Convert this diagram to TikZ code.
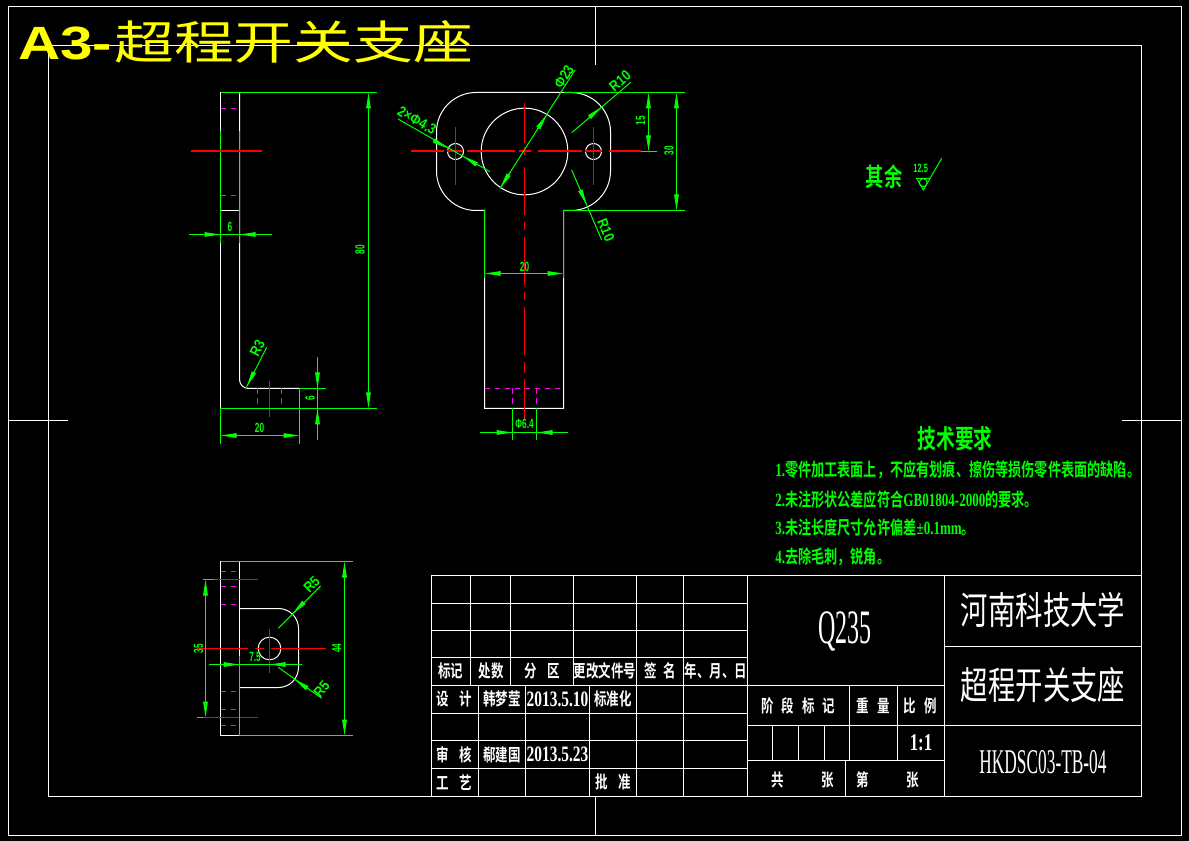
\documentclass[tikz,border=0pt]{standalone}
\usepackage{fontspec}
\usepackage{tikz}
\usetikzlibrary{arrows.meta}
\setmainfont{Liberation Serif}
\newfontfamily\cjkfont[FakeStretch=0.72]{Noto Sans CJK SC}
\newfontfamily\cjkbold[FakeStretch=0.72]{Noto Sans CJK SC Bold}
\newfontfamily\cjkwide[FakeStretch=1.3]{Noto Sans CJK SC}
\newfontfamily\cadfont[FakeStretch=0.7]{Liberation Serif Bold}
\newfontfamily\cadnarrow[FakeStretch=0.5]{Liberation Serif}
\newfontfamily\dimfont[FakeStretch=0.62]{Liberation Sans Bold}
\newfontfamily\dimwide[FakeStretch=0.85]{Liberation Sans Bold}
\newfontfamily\headfont[FakeStretch=1.25]{Liberation Sans Bold}
\definecolor{cadgreen}{HTML}{00FF00}
\definecolor{cadred}{HTML}{FF0000}
\definecolor{cadpink}{HTML}{FF00FF}
\definecolor{cadyellow}{HTML}{FFFF00}
\newcommand\fs[1]{\fontsize{#1}{#1}\selectfont}
\newcommand\gap[1]{\hspace*{#1pt}}

\begin{document}
\begin{tikzpicture}[
    x=0.75pt, y=-0.75pt,
    outline/.style={white, line width=0.75pt},
    table line/.style={white, line width=0.75pt},
    thin green/.style={cadgreen, line width=0.75pt},
    center line/.style={cadred, line width=1pt},
    hidden line/.style={cadpink, line width=1pt, dash pattern=on 4pt off 3.5pt},
    dim line/.style={thin green, {Triangle[length=12pt,width=3.4pt]}-{Triangle[length=12pt,width=3.4pt]}},
    dim tip/.style={thin green, -{Triangle[length=12pt,width=3.4pt]}},
    dim text/.style={text=cadgreen, inner sep=0pt, font=\dimfont\fs{10}},
    slant text/.style={text=cadgreen, inner sep=0pt, font=\dimwide\fs{11}},
    note text/.style={text=cadgreen, inner sep=0pt, font=\cjkbold\fs{13.7}},
    cell text/.style={text=white, inner sep=0pt, font=\cjkbold\fs{13}}]
  \fill[black] (0,0) rectangle (1189,841);

  %% *** Frame ***
  \draw[outline] (8.5,6.5) rectangle (1181.5,835.5);
  \draw[outline] (48.5,45.5) rectangle (1141.5,796.5);
  \draw[outline] (595.5,6.5) -- (595.5,65.5);
  \draw[outline] (595.5,796.5) -- (595.5,835.5);
  \draw[outline] (8.5,420.5) -- (68,420.5);
  \draw[outline] (1122,420.5) -- (1181.5,420.5);

  %% *** Title ***
  \node (sheetsize) [anchor=west, inner sep=0pt, text=cadyellow, font=\headfont\fs{35}] at (18,43) {A3-};
  \node (sheettitle) [anchor=west, inner sep=0pt, text=cadyellow, font=\cjkwide\fs{34.5}] at (114,41.5) {超程开关支座};

  %% *** Side view ***
  \draw[outline] (220.5,92.5) -- (220.5,408.5);
  \draw[outline] (239.5,92.5) -- (239.5,379.5) arc[start angle=180, end angle=270, radius=6.75pt] -- (299.5,388.5);
  \draw[outline] (220.5,210.5) -- (239.5,210.5);
  \draw[thin green] (220.5,131.5) -- (220.5,243);
  \draw[thin green] (239.5,131.5) -- (239.5,243);
  \draw[hidden line] (220.5,108.5) -- (239.5,108.5);
  \draw[hidden line] (220.5,195.5) -- (239.5,195.5);
  \draw[hidden line] (257.5,388.5) -- (257.5,408.5);
  \draw[hidden line] (281.5,388.5) -- (281.5,408.5);
  \draw[center line] (191,151) -- (261.5,151);
  \draw[center line] (269.5,381) -- (269.5,417.5);
  \draw[thin green] (220.5,92.5) -- (376.5,92.5);
  \draw[thin green] (220.5,408.5) -- (376.5,408.5);
  \draw[thin green] (299.5,388.5) -- (325.5,388.5);
  \draw[thin green] (220.5,408.5) -- (220.5,444);
  \draw[thin green] (299.5,388.5) -- (299.5,444);
  \draw[dim line] (368.5,92.5) -- (368.5,408.5);
  \node (sideheight) [dim text, rotate=90] at (360,250) {80};
  \draw[thin green] (188.5,234.5) -- (271.5,234.5);
  \draw[dim tip] (204,234.5) -- (220.5,234.5);
  \draw[dim tip] (255.5,234.5) -- (239.5,234.5);
  \node (sidethick) [dim text] at (230,226.7) {6};
  \draw[dim line] (220.5,435.5) -- (299.5,435.5);
  \node (sidelength) [dim text] at (259.5,428.3) {20};
  \draw[thin green] (317.5,357.5) -- (317.5,440.5);
  \draw[dim tip] (317.5,371) -- (317.5,388.5);
  \draw[dim tip] (317.5,425.5) -- (317.5,408.5);
  \node (sidefoot) [dim text, rotate=90] at (310,398.5) {6};
  \draw[thin green] (266.7,347.3) -- (246.7,386.7);
  \draw[dim tip] (254.6,371) -- (246.7,386.7);
  \node (sideradius) [slant text, rotate=63] at (257.3,348.3) {R3};

  %% *** Front view ***
  \draw[outline] (476,92.5) -- (571,92.5) arc[start angle=90, end angle=0, radius=29.625pt]
    -- (610.5,171) arc[start angle=0, end angle=-90, radius=29.625pt] -- (563.5,210.5)
    -- (563.5,408.5) -- (484.5,408.5) -- (484.5,210.5) -- (476,210.5)
    arc[start angle=270, end angle=180, radius=29.625pt] -- (436.5,132)
    arc[start angle=180, end angle=90, radius=29.625pt];
  \draw[outline] (524.5,151.5) circle[radius=32.5pt];
  \draw[outline] (455.5,151.5) circle[radius=6pt];
  \draw[outline] (593.5,151.5) circle[radius=6pt];
  \foreach \xa/\xb in {411/444, 447/463, 467/515, 519/531, 538/582, 585/602, 609/641}
    \draw[center line] (\xa,151) -- (\xb,151);
  \foreach \ya/\yb in {103/143, 147/155, 167/215, 222/230, 237/285, 292/300, 307/355, 362/373, 379/419}
    \draw[center line] (524.5,\ya) -- (524.5,\yb);
  \draw[center line] (455.5,127) -- (455.5,185);
  \draw[center line] (593.5,127) -- (593.5,185);
  \draw[hidden line] (484.5,388.5) -- (563.5,388.5);
  \draw[hidden line] (512.5,388.5) -- (512.5,408.5);
  \draw[hidden line] (536.5,388.5) -- (536.5,408.5);
  \draw[thin green] (563.5,92.5) -- (685,92.5);
  \draw[thin green] (563.5,210.5) -- (685,210.5);
  \draw[thin green] (641,151.5) -- (657,151.5);
  \draw[thin green] (484.5,210.5) -- (484.5,278);
  \draw[thin green] (563.5,210.5) -- (563.5,278);
  \draw[dim line] (648.5,92.5) -- (648.5,151.5);
  \node (headslot) [dim text, rotate=90] at (640.7,121) {15};
  \draw[dim line] (676.5,92.5) -- (676.5,210.5);
  \node (headheight) [dim text, rotate=90] at (669,151) {30};
  \draw[dim line] (484.5,273.5) -- (563.5,273.5);
  \node (neckwidth) [dim text] at (524.5,266.5) {20};
  \draw[thin green] (512.5,408.5) -- (512.5,440);
  \draw[thin green] (536.5,408.5) -- (536.5,440);
  \draw[thin green] (480,432.5) -- (567.5,432.5);
  \draw[dim tip] (495.5,432.5) -- (512.5,432.5);
  \draw[dim tip] (553,432.5) -- (536.5,432.5);
  \node (footbore) [dim text] at (524.5,423.5) {Φ6.4};
  \draw[thin green] (500,188.3) -- (575,70);
  \draw[dim tip] (510,172.5) -- (500,188.3);
  \draw[dim tip] (537.6,129) -- (547,114.5);
  \node (borelabel) [slant text, rotate=58] at (564,76.7) {Φ23};
  \draw[thin green] (398,119) -- (490,171.7);
  \draw[dim tip] (433,140) -- (448,148.3);
  \draw[dim tip] (477.5,165) -- (463,156);
  \node (holelabel) [slant text, rotate=-30] at (417,120.5) {2×Φ4.3};
  \draw[thin green] (571.7,132.7) -- (630.7,82.3);
  \draw[dim tip] (588.6,118) -- (601.7,106.8);
  \node (upperradius) [slant text, rotate=40] at (620,81) {R10};
  \draw[thin green] (571.7,170) -- (601.7,240);
  \draw[dim tip] (580,189.5) -- (586.7,205);
  \node (lowerradius) [slant text, rotate=-67] at (606,230) {R10};

  %% *** Top view ***
  \draw[outline] (220.5,561.5) rectangle (239.5,735.5);
  \draw[outline] (239.5,608.5) -- (278.5,608.5) arc[start angle=90, end angle=0, radius=15pt]
    -- (298.5,667.5) arc[start angle=0, end angle=-90, radius=15pt] -- (239.5,687.5);
  \draw[outline] (269.5,648.5) circle[radius=8.5pt];
  \foreach \ypos in {571.5, 586.5, 604.5, 691.5, 709.5, 725.5}
    \draw[hidden line] (220.5,\ypos) -- (239.5,\ypos);
  \draw[center line] (196.5,648.5) -- (247.5,648.5);
  \draw[center line] (255,648.5) -- (264,648.5);
  \draw[center line] (271,648.5) -- (325.5,648.5);
  \draw[center line] (269.5,628.5) -- (269.5,672.5);
  \draw[center line] (213.5,579.5) -- (257.5,579.5);
  \draw[center line] (203,717.5) -- (258,717.5);
  \draw[thin green] (203,579.5) -- (213.5,579.5);
  \draw[thin green] (197,717.5) -- (203,717.5);
  \draw[thin green] (239.5,656) -- (239.5,735.5);
  \draw[thin green] (220.5,561.5) -- (353,561.5);
  \draw[thin green] (239.5,735.5) -- (353,735.5);
  \draw[dim line] (205.5,579.5) -- (205.5,717.5);
  \node (holespan) [dim text, rotate=90] at (198.5,648.5) {35};
  \draw[dim line] (344.5,561.5) -- (344.5,735.5);
  \node (overall) [dim text, rotate=90] at (336.7,648) {44};
  \draw[thin green] (208.5,664.5) -- (301.5,664.5);
  \draw[dim tip] (223,664.5) -- (239.5,664.5);
  \draw[dim tip] (286,664.5) -- (269.5,664.5);
  \node (holeoffset) [dim text] at (255,657.3) {7.5};
  \draw[thin green] (278.3,628.3) -- (320.7,586);
  \draw[dim tip] (304,602.3) -- (292.6,613.7);
  \node (topradius) [slant text, rotate=45] at (311.7,584.3) {R5};
  \draw[thin green] (278.3,667.3) -- (321.7,698.3);
  \draw[dim tip] (308.3,689) -- (294,679);
  \node (baseradius) [slant text, rotate=50] at (321.7,689.3) {R5};

  %% *** Roughness and notes ***
  \node (restmark) [note text, font=\cjkbold\fs{19}] at (884,177) {其余};
  \node (roughvalue) [dim text, font=\dimfont\fs{9}] at (920.7,168.3) {12.5};
  \draw[thin green] (930,178.5) -- (916.7,178.5) -- (923.3,190) -- (941.7,158.3);
  \draw[thin green] (923.2,182.7) circle[radius=3pt];
  \node (notehead) [note text, font=\cjkbold\fs{19.5}] at (955,438.3) {技术要求};
  \node (noteone) [note text, anchor=west] at (775,470) {{\cadfont\fs{14}1.}零件加工表面上，不应有划痕、擦伤等损伤零件表面的缺陷。};
  \node (notetwo) [note text, anchor=west] at (775,499.3) {{\cadfont\fs{14}2.}未注形状公差应符合{\cadfont\fs{14}GB01804-2000}的要求。};
  \node (notethree) [note text, anchor=west] at (775,527.3) {{\cadfont\fs{14}3.}未注长度尺寸允许偏差{\cadfont\fs{14}±0.1mm}。};
  \node (notefour) [note text, anchor=west] at (775,556.7) {{\cadfont\fs{14}4.}去除毛刺，锐角。};

  %% *** Title block ***
  \draw[table line] (431.5,575.5) rectangle (1141.5,796.5);
  \foreach \ypos in {603.5, 630.5, 657.5, 685.5, 713.5, 740.5, 768.5}
    \draw[table line] (431.5,\ypos) -- (747.5,\ypos);
  \foreach \xpos in {470.5, 510.5, 573.5}
    \draw[table line] (\xpos,575.5) -- (\xpos,685.5);
  \foreach \xpos in {636.5, 683.5}
    \draw[table line] (\xpos,575.5) -- (\xpos,796.5);
  \foreach \xpos in {478.5, 525.5, 589.5}
    \draw[table line] (\xpos,685.5) -- (\xpos,796.5);
  \draw[table line] (747.5,575.5) -- (747.5,796.5);
  \draw[table line] (944.5,575.5) -- (944.5,796.5);
  \draw[table line] (747.5,685.5) -- (944.5,685.5);
  \draw[table line] (747.5,725.5) -- (1141.5,725.5);
  \draw[table line] (747.5,760.5) -- (944.5,760.5);
  \draw[table line] (944.5,646.5) -- (1141.5,646.5);
  \foreach \xpos in {849.5, 897.5}
    \draw[table line] (\xpos,685.5) -- (\xpos,760.5);
  \foreach \xpos in {772.5, 798.5, 824.5}
    \draw[table line] (\xpos,725.5) -- (\xpos,760.5);
  \draw[table line] (845.5,760.5) -- (845.5,796.5);
  \foreach \xpos/\label in {450.7/标记, 491/处数, 542/分\gap{8}区, 605/更改文件号, 660/签\gap{5}名, 716/年、月、日}
    \node [cell text] at (\xpos,671.3) {\label};
  \foreach \xpos/\ypos/\label in {454/699.3/设\gap{8}计, 502/699.3/韩梦莹, 613/699.3/标准化, 454/754.5/审\gap{8}核, 502/754.5/郗建国, 454/782.3/工\gap{8}艺, 613/782.3/批\gap{8}准}
    \node [cell text] at (\xpos,\ypos) {\label};
  \node (designdate) [cell text, font=\cadfont\fs{16.5}] at (557.5,699.3) {2013.5.10};
  \node (checkdate) [cell text, font=\cadfont\fs{16.5}] at (557.5,754.5) {2013.5.23};
  \node (material) [cell text, font=\cadnarrow\fs{36}] at (845,631.7) {Q235};
  \node (school) [cell text, font=\cjkfont\fs{28.5}] at (1043,610) {河南科技大学};
  \node (partname) [cell text, font=\cjkfont\fs{28.5}] at (1043,685) {超程开关支座};
  \node (drawingno) [cell text, font=\cadnarrow\fs{26}] at (1043,761.7) {HKDSC03-TB-04};
  \node (stagemark) [cell text] at (798,706) {阶\gap{6}段\gap{6}标\gap{6}记};
  \node (weight) [cell text] at (873,706) {重\gap{6}量};
  \node (ratio) [cell text] at (920,706) {比\gap{6}例};
  \node (scale) [cell text, font=\cadfont\fs{18}] at (921,743) {1:1};
  \node (sheetcount) [cell text] at (803,780) {共\gap{28}张};
  \node (sheetindex) [cell text] at (888,780) {第\gap{28}张};
\end{tikzpicture}
\end{document}
